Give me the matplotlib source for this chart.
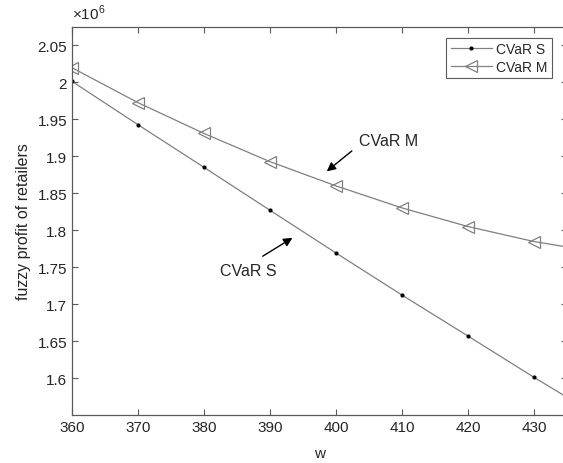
import numpy as np
import matplotlib
matplotlib.use("Agg")
from matplotlib import pyplot as plt
from matplotlib.ticker import FuncFormatter

plt.rcParams['font.family'] = ['Liberation Sans', 'DejaVu Sans']
plt.rcParams['mathtext.fontset'] = 'custom'
plt.rcParams['mathtext.rm'] = 'Liberation Sans'

w = [360, 370, 380, 390, 400, 410, 420, 430, 440]
cvar_s = [2.0014e6, 1.9428e6, 1.8851e6, 1.8270e6, 1.7692e6, 1.7123e6, 1.6568e6, 1.6010e6, 1.5470e6]
cvar_m = [2.0199e6, 1.9726e6, 1.9310e6, 1.8928e6, 1.8600e6, 1.8302e6, 1.8050e6, 1.7847e6, 1.7700e6]
x_ticks = [360, 370, 380, 390, 400, 410, 420, 430]
y_ticks = [1.6e6, 1.65e6, 1.7e6, 1.75e6, 1.8e6, 1.85e6, 1.9e6, 1.95e6, 2.0e6, 2.05e6]

line_col = '#808080'
axis_col = '#5a5a5a'
text_col = '#262626'

fig = plt.figure(figsize=(5.63, 4.64), dpi=100)
ax = fig.add_axes([72 / 563, 1 - 416 / 464, 495 / 563, 388 / 464])

ax.plot(w, cvar_s, color=line_col, lw=0.9, marker='.', ms=4,
        mfc='black', mec='black', label='CVaR S')
ax.plot(w, cvar_m, color=line_col, lw=0.9, marker='<', ms=9,
        mfc='none', mec=line_col, mew=0.9, label='CVaR M')

ax.set_xlim(360, 435)
ax.set_ylim(1.55e6, 2.075e6)
ax.set_xticks(x_ticks)
ax.set_yticks(y_ticks)

# matlab style labels: 2, 1.95, 1.9 ... with the x10^6 on top
ax.yaxis.set_major_formatter(FuncFormatter(lambda v, p: '%g' % round(v / 1e6, 3)))
ax.text(0.0, 1.012, r'$\times10^{6}$', transform=ax.transAxes, fontsize=11,
        color=text_col, ha='left', va='bottom')

ax.tick_params(direction='in', top=True, right=True, length=4, width=0.8,
               colors=axis_col, labelcolor=text_col, labelsize=11)
for sp in ax.spines.values():
    sp.set_color(axis_col)
    sp.set_linewidth(0.9)

ax.set_xlabel('w', fontsize=11, color=text_col, labelpad=9)
ax.set_ylabel('fuzzy profit of retailers', fontsize=11.5, color=text_col, labelpad=5)

leg = ax.legend(loc='upper right', bbox_to_anchor=(552 / 563, 1 - 39 / 464),
                bbox_transform=fig.transFigure, fontsize=10, fancybox=False,
                edgecolor=axis_col, framealpha=1, handlelength=3.0,
                borderpad=0.3, labelspacing=0.25, handletextpad=0.3,
                borderaxespad=0)
leg.get_frame().set_linewidth(0.8)
for t in leg.get_texts():
    t.set_color(text_col)

arrow = dict(arrowstyle='-|>', color='black', lw=1.0,
             mutation_scale=13, shrinkA=0, shrinkB=0)
ax.annotate('', xy=(398.6, 1.8797e6), xytext=(402.4, 1.9073e6), arrowprops=arrow)
ax.text(403.5, 1.9212e6, 'CVaR M', fontsize=11.5, color=text_col, ha='left', va='center')
ax.annotate('', xy=(393.4, 1.7897e6), xytext=(388.9, 1.7649e6), arrowprops=arrow)
ax.text(382.5, 1.7459e6, 'CVaR S', fontsize=11.5, color=text_col, ha='left', va='center')

fig.savefig('out.png', dpi=100)
